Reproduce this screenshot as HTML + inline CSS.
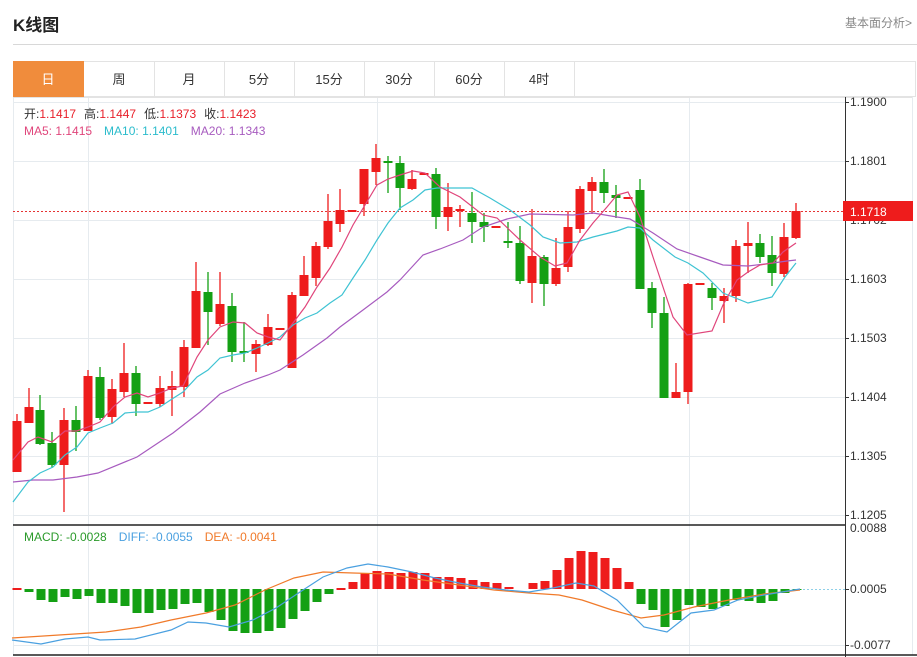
<!DOCTYPE html>
<html><head><meta charset="utf-8"><style>
html,body{margin:0;padding:0;background:#fff;width:917px;height:657px;overflow:hidden}
svg{display:block}
text{font-family:"Liberation Sans","Noto Sans CJK SC",sans-serif}
</style></head><body>
<svg width="917" height="657" viewBox="0 0 917 657" xmlns="http://www.w3.org/2000/svg">
<text x="13" y="31" font-size="17" font-weight="bold" fill="#222">K线图</text>
<text x="912" y="27" font-size="12" fill="#888" text-anchor="end">基本面分析&gt;</text>
<line x1="13" y1="44.5" x2="917" y2="44.5" stroke="#d8d8d8"/>
<!-- tabs -->
<rect x="13.5" y="61.5" width="902" height="35" fill="#fff" stroke="#e3e3e3"/>
<rect x="13" y="61" width="71" height="36" fill="#f08c3c"/>
<g stroke="#e3e3e3">
<line x1="154.5" y1="62" x2="154.5" y2="96"/><line x1="224.5" y1="62" x2="224.5" y2="96"/><line x1="294.5" y1="62" x2="294.5" y2="96"/><line x1="364.5" y1="62" x2="364.5" y2="96"/><line x1="434.5" y1="62" x2="434.5" y2="96"/><line x1="504.5" y1="62" x2="504.5" y2="96"/><line x1="574.5" y1="62" x2="574.5" y2="96"/>
</g>
<g font-size="13" fill="#333" text-anchor="middle">
<text x="48" y="84" fill="#fff">日</text><text x="119" y="84">周</text><text x="189" y="84">月</text><text x="259" y="84">5分</text><text x="329" y="84">15分</text><text x="399" y="84">30分</text><text x="469" y="84">60分</text><text x="539" y="84">4时</text>
</g>
<!-- grid -->
<g stroke="#e6ebef">
<line x1="13" y1="102.5" x2="845" y2="102.5"/><line x1="13" y1="161.5" x2="845" y2="161.5"/><line x1="13" y1="220.5" x2="845" y2="220.5"/><line x1="13" y1="279.5" x2="845" y2="279.5"/><line x1="13" y1="338.5" x2="845" y2="338.5"/><line x1="13" y1="397.5" x2="845" y2="397.5"/><line x1="13" y1="456.5" x2="845" y2="456.5"/><line x1="13" y1="515.5" x2="845" y2="515.5"/>
<line x1="88.5" y1="97" x2="88.5" y2="655"/><line x1="377.5" y1="97" x2="377.5" y2="655"/><line x1="689.5" y1="97" x2="689.5" y2="655"/>
<line x1="13" y1="645.5" x2="845" y2="645.5"/>
<line x1="13.5" y1="97" x2="13.5" y2="655"/>
<line x1="912.5" y1="97" x2="912.5" y2="655"/>
</g>
<line x1="13" y1="97.5" x2="912" y2="97.5" stroke="#e3e3e3"/>
<!-- axis -->
<line x1="845.5" y1="97" x2="845.5" y2="657" stroke="#333"/>
<g font-size="12" fill="#333">
<text x="850" y="106">1.1900</text><text x="850" y="165">1.1801</text><text x="850" y="224">1.1702</text><text x="850" y="283">1.1603</text><text x="850" y="342">1.1503</text><text x="850" y="401">1.1404</text><text x="850" y="460">1.1305</text><text x="850" y="519">1.1205</text>
<text x="850" y="532">0.0088</text><text x="850" y="593">0.0005</text><text x="850" y="649">-0.0077</text>
</g>
<g stroke="#333"><line x1="845" y1="102.5" x2="849" y2="102.5"/><line x1="845" y1="161.5" x2="849" y2="161.5"/><line x1="845" y1="220.5" x2="849" y2="220.5"/><line x1="845" y1="279.5" x2="849" y2="279.5"/><line x1="845" y1="338.5" x2="849" y2="338.5"/><line x1="845" y1="397.5" x2="849" y2="397.5"/><line x1="845" y1="456.5" x2="849" y2="456.5"/><line x1="845" y1="515.5" x2="849" y2="515.5"/><line x1="845" y1="589.5" x2="849" y2="589.5"/><line x1="845" y1="645.5" x2="849" y2="645.5"/></g>
<line x1="13" y1="525" x2="845" y2="525" stroke="#222" stroke-width="1.5"/>
<line x1="13" y1="655" x2="917" y2="655" stroke="#222" stroke-width="1.5"/>
<!-- current price -->
<line x1="13" y1="211.5" x2="843" y2="211.5" stroke="#e53333" stroke-dasharray="2,2"/>
<rect x="843" y="201" width="70" height="20" fill="#ee1c1c"/>
<text x="850" y="216" font-size="12" fill="#fff">1.1718</text>
<!-- legends -->
<g font-size="12">
<text x="24" y="118"><tspan fill="#333">开:</tspan><tspan fill="#e8202a">1.1417</tspan><tspan fill="#333" dx="8">高:</tspan><tspan fill="#e8202a">1.1447</tspan><tspan fill="#333" dx="8">低:</tspan><tspan fill="#e8202a">1.1373</tspan><tspan fill="#333" dx="8">收:</tspan><tspan fill="#e8202a">1.1423</tspan></text>
<text x="24" y="135"><tspan fill="#e0457b">MA5: 1.1415</tspan><tspan fill="#2bbccc" dx="12">MA10: 1.1401</tspan><tspan fill="#a75bbf" dx="12">MA20: 1.1343</tspan></text>
<text x="24" y="541"><tspan fill="#2a9a2a">MACD: -0.0028</tspan><tspan fill="#4aa0e0" dx="12">DIFF: -0.0055</tspan><tspan fill="#f07a2a" dx="12">DEA: -0.0041</tspan></text>
</g>
<!-- wicks -->
<path stroke="#ee1c1c" stroke-width="1.3" fill="none" d="M17 414V472M29 388V423M64 408V512M88 370V431M112 379V424M124 343V397M160 376V407M172 371V416M184 340V397M196 262V348M220 272V326M256 340V372M268 314V346M292 292V368M304 256V296M316 242V286M328 194V249M340 189V232M364 169V216M376 144V185M412 170V190M448 183V231M460 205V227M532 209V303M556 238V286M568 211V272M580 186V233M592 177V214M676 363V398M688 283V404M724 288V323M736 240V302M748 222V273M784 223V277M796 203V239"/>
<path stroke="#14a014" stroke-width="1.3" fill="none" d="M40 395V445M52 432V468M76 406V451M100 367V420M136 366V416M208 272V345M232 293V362M244 322V362M388 156V193M400 156V210M436 168V229M472 192V243M484 213V242M508 222V248M520 226V284M544 255V306M604 169V203M616 185V218M640 179V289M652 282V328M664 297V398M712 283V310M760 234V263M772 236V286"/>
<g fill="#ee1c1c">
<rect x="12.5" y="421" width="9" height="51"/><rect x="24.5" y="407" width="9" height="16"/><rect x="59.5" y="420" width="9" height="45"/><rect x="83.5" y="376" width="9" height="55"/><rect x="107.5" y="389" width="9" height="28"/><rect x="119.5" y="373" width="9" height="19"/><rect x="143.5" y="402" width="9" height="2"/><rect x="155.5" y="388" width="9" height="16"/><rect x="167.5" y="386" width="9" height="4"/><rect x="179.5" y="347" width="9" height="40"/><rect x="191.5" y="291" width="9" height="57"/><rect x="215.5" y="304" width="9" height="20"/><rect x="251.5" y="344" width="9" height="10"/><rect x="263.5" y="327" width="9" height="18"/><rect x="275.5" y="328" width="9" height="2"/><rect x="287.5" y="295" width="9" height="73"/><rect x="299.5" y="275" width="9" height="21"/><rect x="311.5" y="246" width="9" height="32"/><rect x="323.5" y="221" width="9" height="26"/><rect x="335.5" y="210" width="9" height="14"/><rect x="347.5" y="210" width="9" height="2"/><rect x="359.5" y="169" width="9" height="35"/><rect x="371.5" y="158" width="9" height="14"/><rect x="407.5" y="179" width="9" height="10"/><rect x="419.5" y="173" width="9" height="2"/><rect x="443.5" y="207" width="9" height="10"/><rect x="455.5" y="209" width="9" height="2"/><rect x="491.5" y="226" width="9" height="2"/><rect x="527.5" y="256" width="9" height="27"/><rect x="551.5" y="268" width="9" height="16"/><rect x="563.5" y="227" width="9" height="40"/><rect x="575.5" y="189" width="9" height="40"/><rect x="587.5" y="182" width="9" height="9"/><rect x="623.5" y="197" width="9" height="2"/><rect x="671.5" y="392" width="9" height="6"/><rect x="683.5" y="284" width="9" height="108"/><rect x="695.5" y="283" width="9" height="2"/><rect x="719.5" y="296" width="9" height="5"/><rect x="731.5" y="246" width="9" height="50"/><rect x="743.5" y="243" width="9" height="3"/><rect x="779.5" y="237" width="9" height="37"/><rect x="791.5" y="211" width="9" height="27"/>
</g>
<g fill="#14a014">
<rect x="35.5" y="410" width="9" height="34"/><rect x="47.5" y="443" width="9" height="22"/><rect x="71.5" y="420" width="9" height="12"/><rect x="95.5" y="377" width="9" height="41"/><rect x="131.5" y="373" width="9" height="31"/><rect x="203.5" y="292" width="9" height="20"/><rect x="227.5" y="306" width="9" height="46"/><rect x="239.5" y="351" width="9" height="2"/><rect x="383.5" y="161" width="9" height="2"/><rect x="395.5" y="163" width="9" height="25"/><rect x="431.5" y="174" width="9" height="43"/><rect x="467.5" y="213" width="9" height="9"/><rect x="479.5" y="222" width="9" height="5"/><rect x="503.5" y="241" width="9" height="2"/><rect x="515.5" y="243" width="9" height="38"/><rect x="539.5" y="257" width="9" height="27"/><rect x="599.5" y="182" width="9" height="11"/><rect x="611.5" y="195" width="9" height="3"/><rect x="635.5" y="190" width="9" height="99"/><rect x="647.5" y="288" width="9" height="25"/><rect x="659.5" y="313" width="9" height="85"/><rect x="707.5" y="288" width="9" height="10"/><rect x="755.5" y="243" width="9" height="14"/><rect x="767.5" y="255" width="9" height="18"/>
</g>
<!-- MAs -->
<polyline fill="none" stroke="#a75bbf" stroke-width="1.2" points="13,482 33,480 53,480 77,477 98,473 137,457 173,433 200,412 220,394 245,383 268,375 280,370 303,355 327,338 340,327 363,310 387,292 400,280 423,255 440,249 463,240 483,227 507,219 530,214 573,215 593,213 617,217 630,219 640,225 653,233 677,249 700,257 723,265 748,266 773,263 787,261 796,260"/>
<polyline fill="none" stroke="#3fc3d3" stroke-width="1.2" points="13,502 28,482 40,473 53,467 65,455 77,447 88,433 100,428 113,423 125,413 137,412 148,412 160,407 172,399 183,392 197,377 208,370 220,358 233,355 245,353 257,348 268,343 280,337 293,325 305,318 317,313 330,303 342,295 353,278 365,260 377,240 388,223 400,208 413,200 425,190 437,188 472,188 490,198 510,210 530,225 543,237 560,243 577,242 593,237 617,231 628,227 640,228 653,240 675,257 688,263 703,273 723,293 748,303 772,297 785,277 796,263"/>
<polyline fill="none" stroke="#e0457b" stroke-width="1.2" points="13,460 28,442 38,437 52,442 65,431 77,431 88,427 100,422 113,407 125,397 137,393 148,397 160,393 172,388 183,386 197,357 208,340 220,327 233,322 245,323 257,333 268,337 280,340 293,323 305,307 317,287 330,268 342,247 353,225 365,205 377,185 388,179 400,175 413,171 425,173 440,187 460,197 483,215 497,218 520,240 540,257 555,266 567,263 580,240 593,223 607,207 617,195 628,192 640,217 653,257 673,317 687,335 712,331 723,305 737,280 748,272 760,265 773,263 783,252 796,243"/>
<!-- MACD -->
<line x1="795" y1="589.5" x2="845" y2="589.5" stroke="#8fd0e8" stroke-dasharray="2,2"/>
<g fill="#14a014">
<rect x="24.5" y="589" width="9" height="3"/><rect x="36.5" y="589" width="9" height="11"/><rect x="48.5" y="589" width="9" height="13"/><rect x="60.5" y="589" width="9" height="8"/><rect x="72.5" y="589" width="9" height="10"/><rect x="84.5" y="589" width="9" height="7"/><rect x="96.5" y="589" width="9" height="14"/><rect x="108.5" y="589" width="9" height="14"/><rect x="120.5" y="589" width="9" height="17"/><rect x="132.5" y="589" width="9" height="24"/><rect x="144.5" y="589" width="9" height="24"/><rect x="156.5" y="589" width="9" height="21"/><rect x="168.5" y="589" width="9" height="20"/><rect x="180.5" y="589" width="9" height="15"/><rect x="192.5" y="589" width="9" height="14"/><rect x="204.5" y="589" width="9" height="23"/><rect x="216.5" y="589" width="9" height="31"/><rect x="228.5" y="589" width="9" height="42"/><rect x="240.5" y="589" width="9" height="44"/><rect x="252.5" y="589" width="9" height="44"/><rect x="264.5" y="589" width="9" height="42"/><rect x="276.5" y="589" width="9" height="39"/><rect x="288.5" y="589" width="9" height="30"/><rect x="300.5" y="589" width="9" height="22"/><rect x="312.5" y="589" width="9" height="13"/><rect x="324.5" y="589" width="9" height="5"/>
<rect x="636.5" y="589" width="9" height="15"/><rect x="648.5" y="589" width="9" height="21"/><rect x="660.5" y="589" width="9" height="38"/><rect x="672.5" y="589" width="9" height="31"/><rect x="684.5" y="589" width="9" height="16"/><rect x="696.5" y="589" width="9" height="18"/><rect x="708.5" y="589" width="9" height="20"/><rect x="720.5" y="589" width="9" height="17"/><rect x="732.5" y="589" width="9" height="11"/><rect x="744.5" y="589" width="9" height="12"/><rect x="756.5" y="589" width="9" height="14"/><rect x="768.5" y="589" width="9" height="12"/><rect x="780.5" y="589" width="9" height="4"/><rect x="792.5" y="589" width="9" height="1"/>
</g>
<g fill="#ee1c1c">
<rect x="12.5" y="588" width="9" height="2"/><rect x="336.5" y="588" width="9" height="2"/>
<rect x="348.5" y="582" width="9" height="7"/><rect x="360.5" y="573" width="9" height="16"/><rect x="372.5" y="571" width="9" height="18"/><rect x="384.5" y="572" width="9" height="17"/><rect x="396.5" y="573" width="9" height="16"/><rect x="408.5" y="572" width="9" height="17"/><rect x="420.5" y="573" width="9" height="16"/><rect x="432.5" y="577" width="9" height="12"/><rect x="444.5" y="577" width="9" height="12"/><rect x="456.5" y="578" width="9" height="11"/><rect x="468.5" y="580" width="9" height="9"/><rect x="480.5" y="582" width="9" height="7"/><rect x="492.5" y="583" width="9" height="6"/><rect x="504.5" y="587" width="9" height="2"/><rect x="528.5" y="583" width="9" height="6"/><rect x="540.5" y="581" width="9" height="8"/><rect x="552.5" y="570" width="9" height="19"/><rect x="564.5" y="558" width="9" height="31"/><rect x="576.5" y="551" width="9" height="38"/><rect x="588.5" y="552" width="9" height="37"/><rect x="600.5" y="558" width="9" height="31"/><rect x="612.5" y="568" width="9" height="21"/><rect x="624.5" y="582" width="9" height="7"/>
</g>
<polyline fill="none" stroke="#f07a2a" stroke-width="1.2" points="12,638 59,635 106,632 141,627 171,620 206,613 235,605 265,590 294,578 323,572 353,573 388,574 423,580 459,585 494,590 529,593 559,595 582,600 612,610 641,618 664,615 694,607 729,600 764,594 800,590"/>
<polyline fill="none" stroke="#4aa0e0" stroke-width="1.2" points="12,640 41,644 65,639 88,637 100,640 135,639 171,630 188,622 206,623 229,627 253,620 276,608 300,592 323,577 347,568 368,564 388,567 412,572 435,578 459,583 482,587 506,590 529,592 553,588 576,583 594,586 617,600 644,627 667,632 691,613 714,610 738,600 764,595 788,591 800,589"/>
</svg>
</body></html>
